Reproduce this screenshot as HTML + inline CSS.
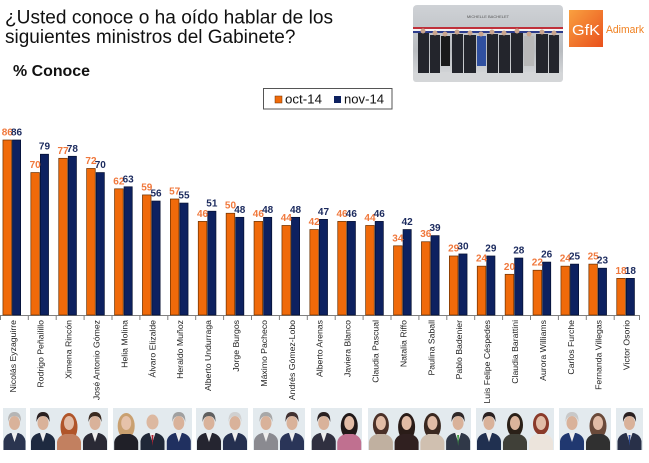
<!DOCTYPE html>
<html><head><meta charset="utf-8"><style>
html,body{margin:0;padding:0;background:#fff;}
svg{display:block;}
text{font-family:"Liberation Sans",Arial,sans-serif;}
.lo{fill:#f0783c;font-size:10px;font-weight:bold;text-anchor:middle;}
.ln{fill:#1b2a5e;font-size:10px;font-weight:bold;text-anchor:middle;}
.nm{fill:#222;font-size:8.7px;text-anchor:end;}
.bo{fill:#f06a0a;stroke:#6a3000;stroke-width:0.7;}
.bn{fill:#0d2160;stroke:#050f30;stroke-width:0.7;}
</style></head><body>
<svg width="649" height="463" viewBox="0 0 649 463" xmlns="http://www.w3.org/2000/svg">
<defs>
<linearGradient id="ph" x1="0" y1="0" x2="0" y2="1"><stop offset="0" stop-color="#cfd2d6"/><stop offset="0.6" stop-color="#b9bcc0"/><stop offset="1" stop-color="#dcdee0"/></linearGradient>
<linearGradient id="gk" x1="0" y1="0" x2="1" y2="1"><stop offset="0" stop-color="#f9a040"/><stop offset="1" stop-color="#e9501c"/></linearGradient>
</defs>
<rect width="649" height="463" fill="#fff"/>

<!-- Title -->
<text x="5" y="23.5" font-size="19" fill="#111" textLength="328" lengthAdjust="spacingAndGlyphs">¿Usted conoce o ha oído hablar de los</text>
<text x="5" y="43" font-size="19" fill="#111">siguientes ministros del Gabinete?</text>
<text x="13" y="76" font-size="15.5" font-weight="bold" fill="#111" textLength="77" lengthAdjust="spacingAndGlyphs">% Conoce</text>

<!-- Top photo -->
<rect x="413" y="5" width="150" height="77" rx="4" fill="url(#ph)"/>
<text x="488" y="18" font-size="4" fill="#555" text-anchor="middle">MICHELLE BACHELET</text>
<rect x="413" y="27" width="150" height="2" fill="#c0303a"/>
<rect x="413" y="29" width="150" height="2" fill="#f4f4f4"/>
<rect x="413" y="31" width="150" height="2" fill="#2c3c8c"/>
<rect x="413" y="72" width="150" height="10" rx="3" fill="#d4d6d8"/>
<g fill="#23252c">
<rect x="418" y="33" width="11" height="40"/><rect x="430" y="35" width="10" height="38"/>
<rect x="441" y="36" width="9" height="30" fill="#1a1a1a"/><rect x="452" y="34" width="11" height="39"/>
<rect x="464" y="35" width="12" height="38"/><rect x="477" y="36" width="9" height="30" fill="#3050a0"/>
<rect x="487" y="34" width="11" height="39"/><rect x="499" y="35" width="11" height="38"/>
<rect x="511" y="33" width="12" height="40"/><rect x="524" y="36" width="10" height="30" fill="#b8b8b8"/>
<rect x="536" y="34" width="12" height="39"/><rect x="549" y="35" width="10" height="38"/>
</g>
<g fill="#caa58e">
<circle cx="423" cy="31" r="2.5"/><circle cx="435" cy="33" r="2.5"/><circle cx="445" cy="34" r="2.5"/><circle cx="457" cy="32" r="2.5"/><circle cx="470" cy="33" r="2.5"/><circle cx="481" cy="34" r="2.5"/><circle cx="492" cy="32" r="2.5"/><circle cx="504" cy="33" r="2.5"/><circle cx="517" cy="31" r="2.5"/><circle cx="529" cy="34" r="2.5"/><circle cx="542" cy="32" r="2.5"/><circle cx="554" cy="33" r="2.5"/>
</g>

<!-- GfK logo -->
<rect x="569" y="10" width="34" height="37" fill="url(#gk)"/>
<text x="586" y="35" font-size="15" fill="#fff" text-anchor="middle" textLength="28" lengthAdjust="spacingAndGlyphs">GfK</text>
<text x="606" y="33" font-size="11" fill="#f08020" textLength="38" lengthAdjust="spacingAndGlyphs">Adimark</text>

<!-- Legend -->
<rect x="263.5" y="88.5" width="128.5" height="20.5" fill="#fff" stroke="#555" stroke-width="1"/>
<rect x="275" y="96" width="7" height="7" fill="#f06a0a" stroke="#6a3000" stroke-width="0.5"/>
<text x="285" y="103.5" font-size="13" fill="#111" textLength="37" lengthAdjust="spacingAndGlyphs">oct-14</text>
<rect x="334" y="96" width="7" height="7" fill="#0d2160"/>
<text x="344" y="103.5" font-size="13" fill="#111" textLength="40" lengthAdjust="spacingAndGlyphs">nov-14</text>

<!-- Axis -->
<line x1="0" y1="315.5" x2="640" y2="315.5" stroke="#808080" stroke-width="1"/>
<g stroke="#808080" stroke-width="1">
<line x1="0.5" y1="315" x2="0.5" y2="320"/><line x1="28.3" y1="315" x2="28.3" y2="320"/><line x1="56.2" y1="315" x2="56.2" y2="320"/><line x1="84.1" y1="315" x2="84.1" y2="320"/><line x1="112" y1="315" x2="112" y2="320"/><line x1="139.9" y1="315" x2="139.9" y2="320"/><line x1="167.8" y1="315" x2="167.8" y2="320"/><line x1="195.7" y1="315" x2="195.7" y2="320"/><line x1="223.6" y1="315" x2="223.6" y2="320"/><line x1="251.5" y1="315" x2="251.5" y2="320"/><line x1="279.4" y1="315" x2="279.4" y2="320"/><line x1="307.3" y1="315" x2="307.3" y2="320"/><line x1="335.2" y1="315" x2="335.2" y2="320"/><line x1="363.1" y1="315" x2="363.1" y2="320"/><line x1="391" y1="315" x2="391" y2="320"/><line x1="418.9" y1="315" x2="418.9" y2="320"/><line x1="446.8" y1="315" x2="446.8" y2="320"/><line x1="474.7" y1="315" x2="474.7" y2="320"/><line x1="502.6" y1="315" x2="502.6" y2="320"/><line x1="530.5" y1="315" x2="530.5" y2="320"/><line x1="558.4" y1="315" x2="558.4" y2="320"/><line x1="586.3" y1="315" x2="586.3" y2="320"/><line x1="614.2" y1="315" x2="614.2" y2="320"/><line x1="639.5" y1="315" x2="639.5" y2="320"/>
</g>

<!-- Groups -->
<g transform="translate(11.95,0)"><rect class="bo" x="-9" y="140" width="8.6" height="175"/><rect class="bn" x="0.5" y="140" width="8.2" height="175"/><text class="lo" x="-4.7" y="135.5">86</text><text class="ln" x="4.6" y="135.5">86</text><text class="nm" transform="translate(3.8,320) rotate(-90)">Nicolás Eyzaguirre</text></g>
<g transform="translate(39.85,0)"><rect class="bo" x="-9" y="172.55" width="8.6" height="142.45"/><rect class="bn" x="0.5" y="154.23" width="8.2" height="160.77"/><text class="lo" x="-4.7" y="168">70</text><text class="ln" x="4.6" y="149.7">79</text><text class="nm" transform="translate(3.8,320) rotate(-90)">Rodrigo Peñailillo</text></g>
<g transform="translate(67.75,0)"><rect class="bo" x="-9" y="158.3" width="8.6" height="156.7"/><rect class="bn" x="0.5" y="156.27" width="8.2" height="158.73"/><text class="lo" x="-4.7" y="153.8">77</text><text class="ln" x="4.6" y="151.8">78</text><text class="nm" transform="translate(3.8,320) rotate(-90)">Ximena Rincón</text></g>
<g transform="translate(95.65,0)"><rect class="bo" x="-9" y="168.48" width="8.6" height="146.52"/><rect class="bn" x="0.5" y="172.55" width="8.2" height="142.45"/><text class="lo" x="-4.7" y="164">72</text><text class="ln" x="4.6" y="168">70</text><text class="nm" transform="translate(3.8,320) rotate(-90)">José Antonio Gómez</text></g>
<g transform="translate(123.55,0)"><rect class="bo" x="-9" y="188.83" width="8.6" height="126.17"/><rect class="bn" x="0.5" y="186.79" width="8.2" height="128.21"/><text class="lo" x="-4.7" y="184.3">62</text><text class="ln" x="4.6" y="182.3">63</text><text class="nm" transform="translate(3.8,320) rotate(-90)">Helia Molina</text></g>
<g transform="translate(151.45,0)"><rect class="bo" x="-9" y="194.93" width="8.6" height="120.07"/><rect class="bn" x="0.5" y="201.04" width="8.2" height="113.96"/><text class="lo" x="-4.7" y="190.4">59</text><text class="ln" x="4.6" y="196.5">56</text><text class="nm" transform="translate(3.8,320) rotate(-90)">Álvaro Elizalde</text></g>
<g transform="translate(179.35,0)"><rect class="bo" x="-9" y="199" width="8.6" height="116"/><rect class="bn" x="0.5" y="203.07" width="8.2" height="111.93"/><text class="lo" x="-4.7" y="194.5">57</text><text class="ln" x="4.6" y="198.6">55</text><text class="nm" transform="translate(3.8,320) rotate(-90)">Heraldo Muñoz</text></g>
<g transform="translate(207.25,0)"><rect class="bo" x="-9" y="221.39" width="8.6" height="93.61"/><rect class="bn" x="0.5" y="211.21" width="8.2" height="103.79"/><text class="lo" x="-4.7" y="216.9">46</text><text class="ln" x="4.6" y="206.7">51</text><text class="nm" transform="translate(3.8,320) rotate(-90)">Alberto Undurraga</text></g>
<g transform="translate(235.15,0)"><rect class="bo" x="-9" y="213.25" width="8.6" height="101.75"/><rect class="bn" x="0.5" y="217.32" width="8.2" height="97.68"/><text class="lo" x="-4.7" y="208.7">50</text><text class="ln" x="4.6" y="212.8">48</text><text class="nm" transform="translate(3.8,320) rotate(-90)">Jorge Burgos</text></g>
<g transform="translate(263.05,0)"><rect class="bo" x="-9" y="221.39" width="8.6" height="93.61"/><rect class="bn" x="0.5" y="217.32" width="8.2" height="97.68"/><text class="lo" x="-4.7" y="216.9">46</text><text class="ln" x="4.6" y="212.8">48</text><text class="nm" transform="translate(3.8,320) rotate(-90)">Máximo Pacheco</text></g>
<g transform="translate(290.95,0)"><rect class="bo" x="-9" y="225.46" width="8.6" height="89.54"/><rect class="bn" x="0.5" y="217.32" width="8.2" height="97.68"/><text class="lo" x="-4.7" y="220.9">44</text><text class="ln" x="4.6" y="212.8">48</text><text class="nm" transform="translate(3.8,320) rotate(-90)">Andrés Gómez-Lobo</text></g>
<g transform="translate(318.85,0)"><rect class="bo" x="-9" y="229.53" width="8.6" height="85.47"/><rect class="bn" x="0.5" y="219.35" width="8.2" height="95.65"/><text class="lo" x="-4.7" y="225">42</text><text class="ln" x="4.6" y="214.8">47</text><text class="nm" transform="translate(3.8,320) rotate(-90)">Alberto Arenas</text></g>
<g transform="translate(346.75,0)"><rect class="bo" x="-9" y="221.39" width="8.6" height="93.61"/><rect class="bn" x="0.5" y="221.39" width="8.2" height="93.61"/><text class="lo" x="-4.7" y="216.9">46</text><text class="ln" x="4.6" y="216.9">46</text><text class="nm" transform="translate(3.8,320) rotate(-90)">Javiera Blanco</text></g>
<g transform="translate(374.65,0)"><rect class="bo" x="-9" y="225.46" width="8.6" height="89.54"/><rect class="bn" x="0.5" y="221.39" width="8.2" height="93.61"/><text class="lo" x="-4.7" y="220.9">44</text><text class="ln" x="4.6" y="216.9">46</text><text class="nm" transform="translate(3.8,320) rotate(-90)">Claudia Pascual</text></g>
<g transform="translate(402.55,0)"><rect class="bo" x="-9" y="245.81" width="8.6" height="69.19"/><rect class="bn" x="0.5" y="229.53" width="8.2" height="85.47"/><text class="lo" x="-4.7" y="241.3">34</text><text class="ln" x="4.6" y="225">42</text><text class="nm" transform="translate(3.8,320) rotate(-90)">Natalia Riffo</text></g>
<g transform="translate(430.45,0)"><rect class="bo" x="-9" y="241.74" width="8.6" height="73.26"/><rect class="bn" x="0.5" y="235.63" width="8.2" height="79.37"/><text class="lo" x="-4.7" y="237.2">36</text><text class="ln" x="4.6" y="231.1">39</text><text class="nm" transform="translate(3.8,320) rotate(-90)">Paulina Saball</text></g>
<g transform="translate(458.35,0)"><rect class="bo" x="-9" y="255.98" width="8.6" height="59.02"/><rect class="bn" x="0.5" y="253.95" width="8.2" height="61.05"/><text class="lo" x="-4.7" y="251.5">29</text><text class="ln" x="4.6" y="249.4">30</text><text class="nm" transform="translate(3.8,320) rotate(-90)">Pablo Badenier</text></g>
<g transform="translate(486.25,0)"><rect class="bo" x="-9" y="266.16" width="8.6" height="48.84"/><rect class="bn" x="0.5" y="255.98" width="8.2" height="59.02"/><text class="lo" x="-4.7" y="261.7">24</text><text class="ln" x="4.6" y="251.5">29</text><text class="nm" transform="translate(3.8,320) rotate(-90)">Luis Felipe Céspedes</text></g>
<g transform="translate(514.15,0)"><rect class="bo" x="-9" y="274.3" width="8.6" height="40.7"/><rect class="bn" x="0.5" y="258.02" width="8.2" height="56.98"/><text class="lo" x="-4.7" y="269.8">20</text><text class="ln" x="4.6" y="253.5">28</text><text class="nm" transform="translate(3.8,320) rotate(-90)">Claudia Barattini</text></g>
<g transform="translate(542.05,0)"><rect class="bo" x="-9" y="270.23" width="8.6" height="44.77"/><rect class="bn" x="0.5" y="262.09" width="8.2" height="52.91"/><text class="lo" x="-4.7" y="265.7">22</text><text class="ln" x="4.6" y="257.6">26</text><text class="nm" transform="translate(3.8,320) rotate(-90)">Aurora Williams</text></g>
<g transform="translate(569.95,0)"><rect class="bo" x="-9" y="266.16" width="8.6" height="48.84"/><rect class="bn" x="0.5" y="264.12" width="8.2" height="50.88"/><text class="lo" x="-4.7" y="261.7">24</text><text class="ln" x="4.6" y="259.6">25</text><text class="nm" transform="translate(3.8,320) rotate(-90)">Carlos Furche</text></g>
<g transform="translate(597.85,0)"><rect class="bo" x="-9" y="264.12" width="8.6" height="50.88"/><rect class="bn" x="0.5" y="268.19" width="8.2" height="46.81"/><text class="lo" x="-4.7" y="259.6">25</text><text class="ln" x="4.6" y="263.7">23</text><text class="nm" transform="translate(3.8,320) rotate(-90)">Fernanda Villegas</text></g>
<g transform="translate(625.75,0)"><rect class="bo" x="-9" y="278.37" width="8.6" height="36.63"/><rect class="bn" x="0.5" y="278.37" width="8.2" height="36.63"/><text class="lo" x="-4.7" y="273.9">18</text><text class="ln" x="4.6" y="273.9">18</text><text class="nm" transform="translate(3.8,320) rotate(-90)">Victor Osorio</text></g>

<!-- Photo strips background -->
<g fill="#e3eaee">
<rect x="3" y="408" width="23" height="42"/><rect x="30" y="408" width="78" height="42"/><rect x="113" y="408" width="79" height="42"/><rect x="196" y="408" width="52" height="42"/><rect x="253" y="408" width="52" height="42"/><rect x="311" y="408" width="51" height="42"/><rect x="368" y="408" width="103" height="42"/><rect x="476" y="408" width="78" height="42"/><rect x="559" y="408" width="52" height="42"/><rect x="616" y="408" width="27" height="42"/>
</g>

<!-- People (male) -->
<g id="p1" transform="translate(14.5,0)"><path d="M-11 450 L-11 441 Q-10 435 -4 433 L4 433 Q10 435 11 441 L11 450Z" fill="#2b3550"/><path d="M-3 433 L0 442 L3 433Z" fill="#eee"/><ellipse cx="0" cy="423" rx="5.5" ry="7" fill="#d9b29a"/><path d="M-6.5 422 Q-7 412 0 412 Q7 412 6.5 422 Q5 416 0 416 Q-5 416 -6.5 422Z" fill="#b5b5b5"/></g>
<g transform="translate(43,0)"><path d="M-12 450 L-12 441 Q-11 435 -4 433 L4 433 Q11 435 12 441 L12 450Z" fill="#1e2a40"/><path d="M-3 433 L0 442 L3 433Z" fill="#eee"/><ellipse cx="0" cy="423" rx="5.5" ry="7" fill="#d9b29a"/><path d="M-6.5 422 Q-7 412 0 412 Q7 412 6.5 422 Q5 416 0 416 Q-5 416 -6.5 422Z" fill="#2a2020"/></g>
<g transform="translate(69,0)"><ellipse cx="0" cy="427" rx="8.5" ry="14" fill="#b0552a"/><path d="M-12 450 L-12 442 Q-11 436 -4 434 L4 434 Q11 436 12 442 L12 450Z" fill="#c28060"/><ellipse cx="0" cy="423" rx="5" ry="7" fill="#e2bca6"/></g>
<g transform="translate(95,0)"><path d="M-12 450 L-12 441 Q-11 435 -4 433 L4 433 Q11 435 12 441 L12 450Z" fill="#2a2a35"/><path d="M-3 433 L0 442 L3 433Z" fill="#eee"/><ellipse cx="0" cy="423" rx="5.5" ry="7" fill="#d9b29a"/><path d="M-6.5 422 Q-7 412 0 412 Q7 412 6.5 422 Q5 416 0 416 Q-5 416 -6.5 422Z" fill="#3a2a20"/></g>
<g transform="translate(126.2,0)"><ellipse cx="0" cy="426" rx="8.5" ry="13" fill="#c9a070"/><path d="M-12 450 L-12 442 Q-11 436 -4 434 L4 434 Q11 436 12 442 L12 450Z" fill="#202028"/><ellipse cx="0" cy="423" rx="5" ry="7" fill="#e6c2aa"/></g>
<g transform="translate(152.5,0)"><path d="M-12 450 L-12 441 Q-11 435 -4 433 L4 433 Q11 435 12 441 L12 450Z" fill="#202838"/><path d="M-3 433 L0 442 L3 433Z" fill="#eee"/><path d="M-1 435 L0 446 L1 435Z" fill="#b02030"/><ellipse cx="0" cy="422" rx="6" ry="7.5" fill="#dcb8a0"/></g>
<g transform="translate(178.8,0)"><path d="M-12 450 L-12 441 Q-11 435 -4 433 L4 433 Q11 435 12 441 L12 450Z" fill="#203060"/><path d="M-3 433 L0 442 L3 433Z" fill="#eee"/><ellipse cx="0" cy="423" rx="5.5" ry="7" fill="#d9b29a"/><path d="M-6.5 422 Q-7 412 0 412 Q7 412 6.5 422 Q5 416 0 416 Q-5 416 -6.5 422Z" fill="#a0a0a0"/></g>
<g transform="translate(209,0)"><path d="M-12 450 L-12 441 Q-11 435 -4 433 L4 433 Q11 435 12 441 L12 450Z" fill="#252530"/><path d="M-3 433 L0 442 L3 433Z" fill="#eee"/><ellipse cx="0" cy="423" rx="5.5" ry="7" fill="#d9b29a"/><path d="M-6.5 422 Q-7 412 0 412 Q7 412 6.5 422 Q5 416 0 416 Q-5 416 -6.5 422Z" fill="#606060"/></g>
<g transform="translate(235,0)"><path d="M-12 450 L-12 441 Q-11 435 -4 433 L4 433 Q11 435 12 441 L12 450Z" fill="#253050"/><path d="M-3 433 L0 442 L3 433Z" fill="#eee"/><ellipse cx="0" cy="423" rx="5.5" ry="7" fill="#d9b29a"/><path d="M-6.5 422 Q-7 412 0 412 Q7 412 6.5 422 Q5 416 0 416 Q-5 416 -6.5 422Z" fill="#d0d0d0"/></g>
<g transform="translate(266,0)"><path d="M-12 450 L-12 441 Q-11 435 -4 433 L4 433 Q11 435 12 441 L12 450Z" fill="#8a8a90"/><path d="M-3 433 L0 442 L3 433Z" fill="#eee"/><ellipse cx="0" cy="423" rx="5.5" ry="7" fill="#d9b29a"/><path d="M-6.5 422 Q-7 412 0 412 Q7 412 6.5 422 Q5 416 0 416 Q-5 416 -6.5 422Z" fill="#a8a8a8"/></g>
<g transform="translate(292,0)"><path d="M-12 450 L-12 441 Q-11 435 -4 433 L4 433 Q11 435 12 441 L12 450Z" fill="#2a3558"/><path d="M-3 433 L0 442 L3 433Z" fill="#eee"/><ellipse cx="0" cy="423" rx="5.5" ry="7" fill="#d9b29a"/><path d="M-6.5 422 Q-7 412 0 412 Q7 412 6.5 422 Q5 416 0 416 Q-5 416 -6.5 422Z" fill="#403030"/></g>
<g transform="translate(323.75,0)"><path d="M-12 450 L-12 441 Q-11 435 -4 433 L4 433 Q11 435 12 441 L12 450Z" fill="#303040"/><path d="M-3 433 L0 442 L3 433Z" fill="#eee"/><ellipse cx="0" cy="423" rx="5.5" ry="7" fill="#d9b29a"/><path d="M-6.5 422 Q-7 412 0 412 Q7 412 6.5 422 Q5 416 0 416 Q-5 416 -6.5 422Z" fill="#2a2020"/></g>
<g transform="translate(349.25,0)"><ellipse cx="0" cy="426" rx="8.5" ry="13" fill="#201818"/><path d="M-12 450 L-12 442 Q-11 436 -4 434 L4 434 Q11 436 12 442 L12 450Z" fill="#c07090"/><ellipse cx="0" cy="423" rx="5" ry="7" fill="#e2bca6"/></g>
<g transform="translate(380.9,0)"><ellipse cx="0" cy="425" rx="8" ry="12" fill="#4a3028"/><path d="M-12 450 L-12 442 Q-11 436 -4 434 L4 434 Q11 436 12 442 L12 450Z" fill="#c0b0a0"/><ellipse cx="0" cy="423" rx="5" ry="7" fill="#e2bca6"/></g>
<g transform="translate(406.6,0)"><ellipse cx="0" cy="427" rx="8.5" ry="14" fill="#2a1c18"/><path d="M-12 450 L-12 442 Q-11 436 -4 434 L4 434 Q11 436 12 442 L12 450Z" fill="#302020"/><ellipse cx="0" cy="423" rx="5" ry="7" fill="#e2bca6"/></g>
<g transform="translate(432.4,0)"><ellipse cx="0" cy="426" rx="8.5" ry="13" fill="#3a2820"/><path d="M-12 450 L-12 442 Q-11 436 -4 434 L4 434 Q11 436 12 442 L12 450Z" fill="#d0c0b0"/><ellipse cx="0" cy="423" rx="5" ry="7" fill="#e2bca6"/></g>
<g transform="translate(458.1,0)"><path d="M-12 450 L-12 441 Q-11 435 -4 433 L4 433 Q11 435 12 441 L12 450Z" fill="#303848"/><path d="M-3 433 L0 442 L3 433Z" fill="#eee"/><path d="M-1 435 L0 446 L1 435Z" fill="#3a9a40"/><ellipse cx="0" cy="423" rx="5.5" ry="7" fill="#d9b29a"/><path d="M-6.5 422 Q-7 412 0 412 Q7 412 6.5 422 Q5 416 0 416 Q-5 416 -6.5 422Z" fill="#302828"/></g>
<g transform="translate(489,0)"><path d="M-12 450 L-12 441 Q-11 435 -4 433 L4 433 Q11 435 12 441 L12 450Z" fill="#203050"/><path d="M-3 433 L0 442 L3 433Z" fill="#eee"/><ellipse cx="0" cy="423" rx="5.5" ry="7" fill="#d9b29a"/><path d="M-6.5 422 Q-7 412 0 412 Q7 412 6.5 422 Q5 416 0 416 Q-5 416 -6.5 422Z" fill="#2a2020"/></g>
<g transform="translate(515,0)"><ellipse cx="0" cy="425" rx="8" ry="12" fill="#2a2018"/><path d="M-12 450 L-12 442 Q-11 436 -4 434 L4 434 Q11 436 12 442 L12 450Z" fill="#404038"/><ellipse cx="0" cy="423" rx="5" ry="7" fill="#dcb49c"/></g>
<g transform="translate(541,0)"><ellipse cx="0" cy="424" rx="8" ry="11" fill="#8a3a2a"/><path d="M-12 450 L-12 442 Q-11 436 -4 434 L4 434 Q11 436 12 442 L12 450Z" fill="#ece4dc"/><ellipse cx="0" cy="423" rx="5" ry="7" fill="#e2bca6"/></g>
<g transform="translate(572,0)"><path d="M-12 450 L-12 441 Q-11 435 -4 433 L4 433 Q11 435 12 441 L12 450Z" fill="#203870"/><path d="M-3 433 L0 442 L3 433Z" fill="#eee"/><ellipse cx="0" cy="423" rx="5.5" ry="7" fill="#d9b29a"/><path d="M-6.5 422 Q-7 412 0 412 Q7 412 6.5 422 Q5 416 0 416 Q-5 416 -6.5 422Z" fill="#c8c8c8"/></g>
<g transform="translate(598,0)"><ellipse cx="0" cy="426" rx="8.5" ry="13" fill="#6a4a3a"/><path d="M-12 450 L-12 442 Q-11 436 -4 434 L4 434 Q11 436 12 442 L12 450Z" fill="#303030"/><ellipse cx="0" cy="423" rx="5" ry="7" fill="#e2bca6"/></g>
<g transform="translate(629.5,0)"><path d="M-12 450 L-12 441 Q-11 435 -4 433 L4 433 Q11 435 12 441 L12 450Z" fill="#283048"/><path d="M-3 433 L0 442 L3 433Z" fill="#eee"/><path d="M-1 435 L0 446 L1 435Z" fill="#3050a0"/><ellipse cx="0" cy="423" rx="5.5" ry="7" fill="#d9b29a"/><path d="M-6.5 422 Q-7 412 0 412 Q7 412 6.5 422 Q5 416 0 416 Q-5 416 -6.5 422Z" fill="#2a2020"/></g>
</svg>
</body></html>
